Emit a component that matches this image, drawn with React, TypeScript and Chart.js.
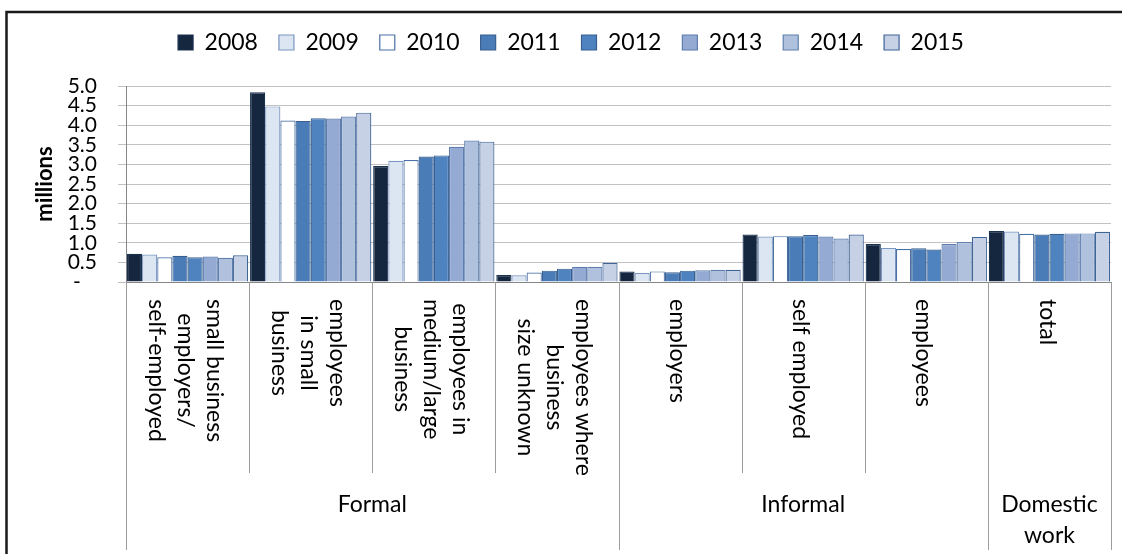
import React, { useEffect, useRef } from 'react';
import { Chart, registerables } from 'chart.js';

Chart.register(...registerables);

// ---- data ----
const years = ['2008', '2009', '2010', '2011', '2012', '2013', '2014', '2015'];

const categoryLines: string[][] = [
  ['small business', 'employers/', 'self-employed'],
  ['employees', 'in small', 'business'],
  ['employees in', 'medium/large', 'business'],
  ['employees where', 'business', 'size unknown'],
  ['employers'],
  ['self employed'],
  ['employees'],
  ['total'],
];

const groupLabels: string[][] = [['Formal'], ['Informal'], ['Domestic', 'work']];
const groupStarts = [0, 4, 7];

const v2008 = [0.72, 4.84, 2.96, 0.18, 0.27, 1.21, 0.97, 1.30];
const v2009 = [0.70, 4.48, 3.09, 0.17, 0.23, 1.16, 0.87, 1.29];
const v2010 = [0.63, 4.12, 3.11, 0.24, 0.27, 1.17, 0.84, 1.23];
const v2011 = [0.67, 4.11, 3.20, 0.29, 0.25, 1.17, 0.86, 1.21];
const v2012 = [0.63, 4.18, 3.23, 0.34, 0.29, 1.20, 0.83, 1.23];
const v2013 = [0.65, 4.17, 3.45, 0.39, 0.30, 1.16, 0.97, 1.24];
const v2014 = [0.62, 4.22, 3.61, 0.39, 0.31, 1.11, 1.02, 1.24];
const v2015 = [0.68, 4.32, 3.58, 0.49, 0.31, 1.21, 1.15, 1.28];
const seriesValues = [v2008, v2009, v2010, v2011, v2012, v2013, v2014, v2015];

const yMin = 0;
const yMax = 5;
const yStep = 0.5;
const yTitle = 'millions';

// ---- styles ----
const fillColors = ['#14273F', '#DCE6F2', '#FFFFFF', '#4A7CB8', '#4F83C0', '#94AAD2', '#B0C1DD', '#C7D1E5'];
const borderColors = ['#1B3150', '#7A96C2', '#4A70A5', '#385F8F', '#385F8F', '#5E7DAE', '#5F80AE', '#3F6496'];
const FONT = 'Lato';

const legendSpacer = {
  id: 'legendSpacer',
  beforeUpdate(chart: any) {
    const legend = chart.legend;
    if (legend && !legend._spacerPatched) {
      const orig = legend.fit;
      legend.fit = function () {
        orig.call(this);
        this.height = 76;
      };
      legend._spacerPatched = true;
    }
  },
};

const axisDecor = {
  id: 'axisDecor',
  afterDraw(chart: any) {
    const { ctx, chartArea } = chart;
    const x = chart.scales.x;
    const n = categoryLines.length;
    const bottom = chartArea.bottom;
    const edge = (i: number) => {
      if (i === 0) return chartArea.left;
      if (i === n) return chartArea.right;
      return (x.getPixelForValue(i - 1) + x.getPixelForValue(i)) / 2;
    };
    ctx.save();
    // separators
    ctx.strokeStyle = '#9C9C9C';
    ctx.lineWidth = 1;
    for (let i = 0; i <= n; i++) {
      const bx = Math.round(edge(i)) + 0.5;
      const isGroup = i === n || groupStarts.includes(i);
      ctx.beginPath();
      ctx.moveTo(bx, bottom);
      ctx.lineTo(bx, bottom + (isGroup ? 268 : 191));
      ctx.stroke();
    }
    // category labels (rotated clockwise)
    ctx.fillStyle = '#000';
    ctx.font = `23px ${FONT}`;
    ctx.textAlign = 'center';
    ctx.textBaseline = 'middle';
    const lineGap = 29;
    categoryLines.forEach((lines, i) => {
      const cx = x.getPixelForValue(i) - 2.5;
      const w = Math.max(...lines.map((l) => ctx.measureText(l).width));
      ctx.save();
      ctx.translate(cx, bottom + 17 + w / 2);
      ctx.rotate(Math.PI / 2);
      lines.forEach((l, k) => {
        ctx.fillText(l, 0, (k - (lines.length - 1) / 2) * lineGap);
      });
      ctx.restore();
    });
    // group labels
    groupLabels.forEach((lines, g) => {
      const s = groupStarts[g];
      const e = g + 1 < groupStarts.length ? groupStarts[g + 1] : n;
      const gx = (edge(s) + edge(e)) / 2;
      lines.forEach((l, k) => {
        ctx.fillText(l, gx, bottom + 223 + k * 31);
      });
    });
    // outer frame
    ctx.strokeStyle = '#1A1A1A';
    ctx.lineWidth = 2.5;
    ctx.beginPath();
    ctx.moveTo(6.5, chart.height + 5);
    ctx.lineTo(6.5, 12);
    ctx.lineTo(chart.width + 5, 12);
    ctx.stroke();
    ctx.restore();
  },
};

export default function App() {
  const ref = useRef<HTMLCanvasElement | null>(null);

  useEffect(() => {
    if (!ref.current) return;
    Chart.defaults.font.family = FONT;
    Chart.defaults.color = '#000';
    const chart = new Chart(ref.current, {
      type: 'bar',
      data: {
        labels: categoryLines.map((l) => l.join(' ')),
        datasets: years.map((y, i) => ({
          label: y,
          data: seriesValues[i],
          backgroundColor: fillColors[i],
          borderColor: borderColors[i],
          borderWidth: 1.2,
          borderSkipped: 'bottom' as const,
          categoryPercentage: 0.985,
          barPercentage: 1.0,
        })),
      },
      options: {
        responsive: false,
        animation: false,
        layout: { padding: { left: 31, right: 11, top: 10, bottom: 0 } },
        plugins: {
          legend: {
            position: 'top',
            labels: {
              boxWidth: 15,
              boxHeight: 15,
              padding: 21,
              color: '#000',
              font: { size: 23, family: FONT },
            },
          },
          tooltip: { enabled: false },
        },
        scales: {
          x: {
            type: 'category',
            offset: true,
            ticks: { display: false },
            grid: { display: true, drawOnChartArea: false, drawTicks: false },
            border: { display: true, color: '#868686', width: 1 },
            afterFit: (s: any) => {
              s.height = 272;
            },
          },
          y: {
            min: yMin,
            max: yMax,
            ticks: {
              stepSize: yStep,
              autoSkip: false,
              padding: 21,
              color: '#000',
              font: { size: 21, family: FONT },
              callback: (v: any) => (Number(v) === 0 ? '-   ' : Number(v).toFixed(1)),
            },
            grid: { color: '#C2C2C2', lineWidth: 1, tickLength: 8 },
            border: { display: true, color: '#868686', width: 1 },
            title: {
              display: true,
              text: yTitle,
              color: '#000',
              font: { size: 22, weight: 'bold', family: FONT },
              padding: { top: 1, bottom: 0 },
            },
            afterFit: (s: any) => {
              s.width = 95;
            },
          },
        },
      },
      plugins: [legendSpacer, axisDecor],
    } as any);
    return () => chart.destroy();
  }, []);

  return (
    <div style={{ position: 'absolute', left: 0, top: 0, width: 1122, height: 554, background: '#fff' }}>
      <canvas ref={ref} width={1122} height={554} style={{ display: 'block' }} />
    </div>
  );
}
